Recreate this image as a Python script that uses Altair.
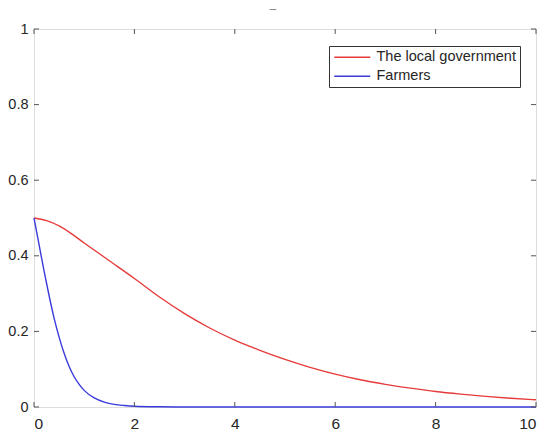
import altair as alt
import pandas as pd

# Series values
gov_x = [0, 0.25, 0.5, 0.75, 1, 1.5, 2, 2.5, 3, 3.5, 4, 4.5, 5, 5.5, 6, 6.5, 7, 7.5, 8, 8.5, 9, 9.5, 10]
gov_y = [0.5, 0.493, 0.479, 0.458, 0.434, 0.387, 0.340, 0.291, 0.247, 0.209, 0.177, 0.150, 0.126, 0.105,
         0.087, 0.072, 0.060, 0.050, 0.041, 0.034, 0.028, 0.023, 0.019]

farm_x = [0, 0.1, 0.2, 0.3, 0.4, 0.5, 0.6, 0.7, 0.8, 0.9, 1.0, 1.2, 1.4, 1.6, 1.8, 2.0,
          2.5, 3, 4, 5, 6, 7, 8, 9, 10]
farm_y = [0.5, 0.43, 0.36, 0.295, 0.235, 0.185, 0.142, 0.107, 0.08, 0.06, 0.044, 0.024,
          0.013, 0.007, 0.004, 0.002, 0.0005, 0, 0, 0, 0, 0, 0, 0, 0]

series_names = ["The local government", "Farmers"]
series_colors = ["#e63b3b", "#3b3bdc"]

x_ticks = [0, 2, 4, 6, 8, 10]
y_ticks = [0, 0.2, 0.4, 0.6, 0.8, 1]

W, H = 502, 378
AXIS_COLOR = "#555555"
TEXT_COLOR = "#262626"
FONT = "Liberation Sans"

df = pd.concat([
    pd.DataFrame({"x": gov_x, "y": gov_y, "series": series_names[0]}),
    pd.DataFrame({"x": farm_x, "y": farm_y, "series": series_names[1]}),
])

xscale = alt.Scale(domain=[0, 10], nice=False, zero=False)
yscale = alt.Scale(domain=[0, 1], nice=False)

lines = alt.Chart(df).mark_line(strokeWidth=1.4, interpolate="monotone").encode(
    x=alt.X("x:Q", scale=xscale, title=None,
            axis=alt.Axis(values=x_ticks, ticks=False, domain=False, grid=False,
                          labelPadding=9, labelFontSize=15.5, labelColor=TEXT_COLOR,
                          labelFont=FONT, format="d")),
    y=alt.Y("y:Q", scale=yscale, title=None,
            axis=alt.Axis(values=y_ticks, ticks=False, domain=False, grid=False,
                          labelPadding=6, labelFontSize=14.5, labelColor=TEXT_COLOR,
                          labelFont=FONT, format="~g")),
    color=alt.Color("series:N", sort=series_names,
                    scale=alt.Scale(domain=series_names, range=series_colors),
                    legend=alt.Legend(title=None, orient="none", legendX=295, legendY=17,
                                      fillColor="white", strokeColor="#333333",
                                      padding=4, cornerRadius=0,
                                      symbolType="M-1,0H5", symbolSize=144,
                                      symbolStrokeWidth=1.4, labelFontSize=14.5,
                                      labelFont=FONT, labelColor=TEXT_COLOR,
                                      labelOffset=29, rowPadding=4)),
)

xt_df = pd.DataFrame({"x": x_ticks})
yt_df = pd.DataFrame({"y": y_ticks})
TL = 5

bottom_ticks = alt.Chart(xt_df).mark_rule(color=AXIS_COLOR).encode(
    x=alt.X("x:Q", scale=xscale), y=alt.value(H), y2=alt.value(H - TL))
top_ticks = alt.Chart(xt_df).mark_rule(color=AXIS_COLOR).encode(
    x=alt.X("x:Q", scale=xscale), y=alt.value(0), y2=alt.value(TL))
left_ticks = alt.Chart(yt_df).mark_rule(color=AXIS_COLOR).encode(
    y=alt.Y("y:Q", scale=yscale), x=alt.value(0), x2=alt.value(TL))
right_ticks = alt.Chart(yt_df).mark_rule(color=AXIS_COLOR).encode(
    y=alt.Y("y:Q", scale=yscale), x=alt.value(W), x2=alt.value(W - TL))

chart = alt.layer(lines, bottom_ticks, top_ticks, left_ticks, right_ticks).properties(
    width=W, height=H,
    title=alt.TitleParams(text="_", fontSize=11, color="#666666", font=FONT,
                          anchor="middle", dx=-12, offset=11, fontWeight="normal"),
    autosize=alt.AutoSizeParams(type="none"),
    padding={"left": 26, "top": 21, "right": 6, "bottom": 24},
).configure_view(
    stroke=AXIS_COLOR, strokeWidth=1
).configure(background="white")

chart.save("out.html", embed_options={"renderer": "svg", "actions": False})
